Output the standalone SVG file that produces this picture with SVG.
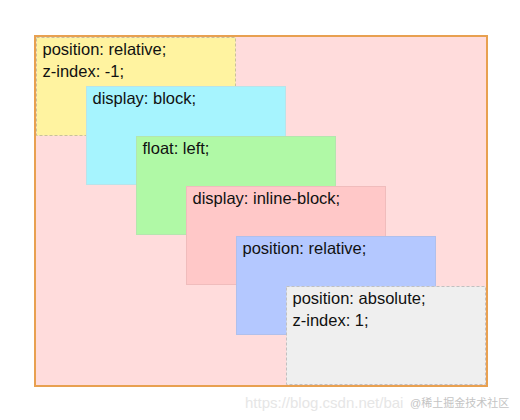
<svg xmlns="http://www.w3.org/2000/svg" width="520" height="420" viewBox="0 0 520 420">
<style>
.t{font-family:"Liberation Sans",Arial,sans-serif;font-size:16.5px;fill:#111}
.box{stroke-width:1}
.dash{stroke-dasharray:3 2}
.wm{font-family:"Liberation Sans",Arial,sans-serif;font-size:15px;fill:#e6e6e6}
.wm2{font-family:"Liberation Sans","Noto Sans CJK SC",sans-serif;font-size:11px;fill:#c4c4c4}
</style>
<rect width="520" height="420" fill="#ffffff"/>
<g id="container">
<rect x="35" y="36" width="452" height="350" fill="#ffdcdc" stroke="#e8a050" stroke-width="2"/>
</g>
<g id="connectors"></g>
<g id="box1">
<rect class="box dash" x="36.5" y="37.5" width="199" height="98" fill="#fff3a0" stroke="#c8c29a"/>
<text class="t" x="42.5" y="55">position: relative;</text>
<text class="t" x="42.5" y="77">z-index: -1;</text>
</g>
<g id="box2">
<rect class="box" x="86.5" y="86.5" width="199" height="98" fill="#a6f4fe" stroke="#b8e4ea"/>
<text class="t" x="92.5" y="104">display: block;</text>
</g>
<g id="box3">
<rect class="box" x="136.5" y="136.5" width="199" height="98" fill="#b0f9a6" stroke="#b4e6ae"/>
<text class="t" x="142.5" y="154">float: left;</text>
</g>
<g id="box4">
<rect class="box" x="186.5" y="186.5" width="199" height="98" fill="#ffc8c8" stroke="#f0bcbc"/>
<text class="t" x="192.5" y="204">display: inline-block;</text>
</g>
<g id="box5">
<rect class="box" x="236.5" y="236.5" width="199" height="98" fill="#b4c8ff" stroke="#b0c0ec"/>
<text class="t" x="242.5" y="254">position: relative;</text>
</g>
<g id="box6">
<rect class="box dash" x="286.5" y="286.5" width="199" height="98" fill="#efefef" stroke="#c0c0c0"/>
<text class="t" x="292.5" y="304">position: absolute;</text>
<text class="t" x="292.5" y="326">z-index: 1;</text>
</g>
<text class="wm" x="245" y="408">https://blog.csdn.net/bai</text>
<text class="wm2" x="410" y="407" stroke="#ffffff" stroke-width="2" paint-order="stroke">@稀土掘金技术社区</text>
</svg>
